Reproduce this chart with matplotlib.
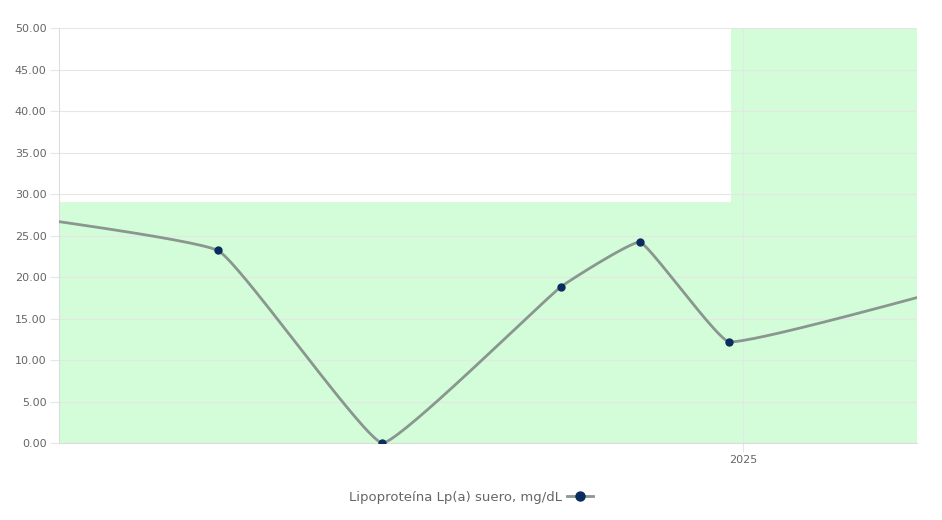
import numpy as np
import matplotlib
matplotlib.use("Agg")
import matplotlib.pyplot as plt
import matplotlib.dates as mdates
from matplotlib.lines import Line2D

# measurements (first and last lie outside the visible window)
dates = ["2023-10-15", "2024-04-05", "2024-06-29", "2024-09-29", "2024-11-09", "2024-12-25", "2025-05-15"]
values = [29.6, 23.2, 0.0, 18.8, 24.2, 12.2, 20.3]

# reference range band
band_dates = ["2024-01-14", "2024-12-26", "2025-04-01"]
band_upper = [29.0, 50.0, 50.0]

x_start, x_end = "2024-01-14", "2025-04-01"
y_ticks = [0, 5, 10, 15, 20, 25, 30, 35, 40, 45, 50]
legend_label = "Lipoproteína Lp(a) suero, mg/dL"

line_color = "#8a9690"
marker_color = "#0b2c5e"
band_color = "#d2fdd8"
grid_color = "#e6e6e6"
text_color = "#666666"


def spline_path(ax, xs, ys, tension=0.1, n=40):
    # Catmull-Rom style bezier in pixel space, control points kept inside the plot
    pts = ax.transData.transform(np.column_stack([xs, ys]))
    bb = ax.bbox
    cps = []
    for i in range(len(pts)):
        p = pts[max(i - 1, 0)]
        c = pts[i]
        nx = pts[min(i + 1, len(pts) - 1)]
        d01 = np.hypot(*(c - p))
        d12 = np.hypot(*(nx - c))
        tot = d01 + d12
        s01 = d01 / tot if tot else 0
        s12 = d12 / tot if tot else 0
        c1 = c - tension * s01 * (nx - p)
        c2 = c + tension * s12 * (nx - p)
        for cp in (c1, c2):
            if bb.x0 <= c[0] <= bb.x1:
                cp[1] = min(max(cp[1], bb.y0), bb.y1)
        cps.append((c1, c2))
    out = []
    t = np.linspace(0, 1, n)[:, None]
    for i in range(len(pts) - 1):
        a, b = pts[i], pts[i + 1]
        c1, c2 = cps[i][1], cps[i + 1][0]
        seg = (1 - t)**3 * a + 3 * (1 - t)**2 * t * c1 + 3 * (1 - t) * t**2 * c2 + t**3 * b
        out.append(seg)
    out = np.vstack(out)
    data = ax.transData.inverted().transform(out)
    return data[:, 0], data[:, 1]


xd = mdates.datestr2num(dates)
bx = mdates.datestr2num(band_dates)

fig = plt.figure(figsize=(9.42, 5.2), dpi=100)
ax = fig.add_axes([0.0626, 0.148, 0.911, 0.798])
ax.set_xlim(mdates.datestr2num(x_start), mdates.datestr2num(x_end))
ax.set_ylim(0, 50)

ax.fill_between(bx, 0, band_upper, step="post", color=band_color, lw=0, zorder=0)

cx, cy = spline_path(ax, xd, values)
ax.plot(cx, cy, color=line_color, lw=2.0, zorder=3, solid_capstyle="round")
ax.plot(xd, values, "o", color=marker_color, ms=5, zorder=4)

ax.set_xlim(mdates.datestr2num(x_start), mdates.datestr2num(x_end))
ax.set_ylim(0, 50)
ax.set_yticks(y_ticks)
ax.set_yticklabels([f"{v:.2f}" for v in y_ticks])
ax.xaxis.set_major_locator(mdates.YearLocator())
ax.xaxis.set_major_formatter(mdates.DateFormatter("%Y"))

ax.grid(True, color=grid_color, lw=0.8, zorder=1)
for s in ["top", "right"]:
    ax.spines[s].set_visible(False)
for s in ["left", "bottom"]:
    ax.spines[s].set_color("#dcdcdc")
    ax.spines[s].set_linewidth(0.8)
ax.tick_params(colors=grid_color, labelcolor=text_color, labelsize=8, length=6.5, width=0.8, pad=2.5)
ax.tick_params(axis="x", pad=2)

handle = Line2D([], [], color=line_color, lw=2.0, marker="o", ms=6.5,
                markerfacecolor=marker_color, markeredgecolor=marker_color)
fig.legend([handle], [legend_label], loc="center", bbox_to_anchor=(0.5, 0.044),
           frameon=False, markerfirst=False, fontsize=9.5, labelcolor=text_color,
           handlelength=2.0, handletextpad=0.4)

fig.savefig("out.png", dpi=100)
